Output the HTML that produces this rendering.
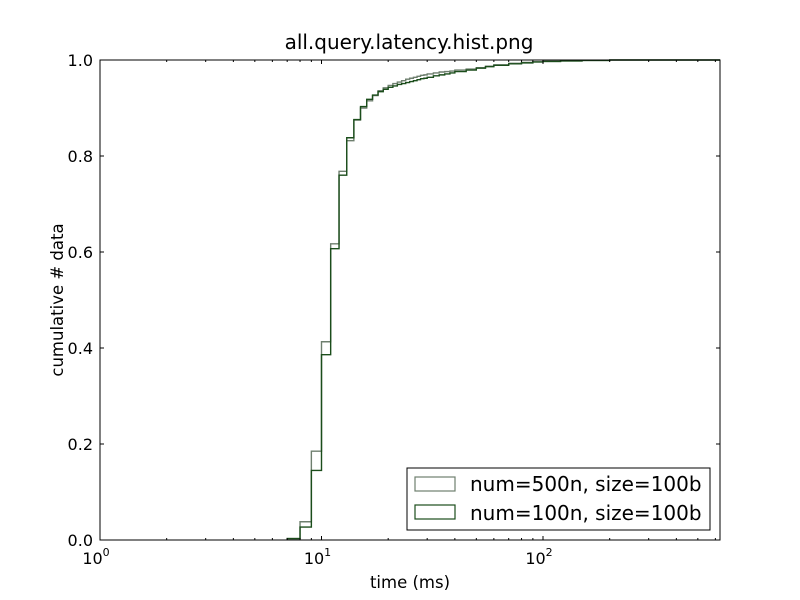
<!DOCTYPE html>
<html><head><meta charset="utf-8"><style>
html,body{margin:0;padding:0;background:#fff}
svg{display:block;font-family:"DejaVu Sans","Liberation Sans",sans-serif}
</style></head><body>
<svg id="chart" width="800" height="600" viewBox="0 0 800 600" xmlns="http://www.w3.org/2000/svg">
<defs><clipPath id="plotclip"><rect x="100" y="55" width="620" height="486"/></clipPath></defs>
<rect width="800" height="600" fill="#fff"/>
<text x="409" y="49" font-size="20" text-anchor="middle">all.query.latency.hist.png</text>
<g id="series" clip-path="url(#plotclip)"></g>
<g id="axes"></g>
<rect x="100" y="60" width="620" height="480" fill="none" stroke="#000" stroke-width="1"/>
<text x="410" y="588" font-size="16.5" text-anchor="middle">time (ms)</text>
<text transform="translate(63,300) rotate(-90)" font-size="16.5" text-anchor="middle">cumulative # data</text>
<g>
<rect x="407" y="468" width="303" height="62" fill="#fff" stroke="#000" stroke-width="1"/>
<rect x="415" y="477" width="40" height="14" fill="none" stroke="#6e7f6e" stroke-width="1.2"/>
<text x="470" y="491" font-size="20">num=500n, size=100b</text>
<rect x="415" y="505" width="40" height="14" fill="none" stroke="#1b4d1b" stroke-width="1.2"/>
<text x="470" y="520" font-size="20">num=100n, size=100b</text>
</g>
</svg>
<script>
const binEdges=[7,8,9,10,11,12,13,14,15,16,17,18,19,20,21,22,23,24,25,26,27,28,29,30,32,34,36,38,40,45,50,55,60,70,80,90,100,120,150,200,300,640];
const series500n=[0.003,0.038,0.185,0.413,0.617,0.768,0.832,0.875,0.9,0.915,0.926,0.936,0.942,0.947,0.951,0.954,0.957,0.96,0.962,0.964,0.966,0.968,0.969,0.971,0.973,0.975,0.976,0.977,0.979,0.981,0.984,0.987,0.99,0.993,0.995,0.996,0.997,0.998,0.999,1,1];
const series100n=[0.003,0.027,0.145,0.386,0.607,0.76,0.838,0.876,0.903,0.918,0.927,0.934,0.939,0.943,0.946,0.949,0.951,0.953,0.955,0.957,0.959,0.961,0.962,0.964,0.967,0.969,0.971,0.973,0.976,0.979,0.983,0.986,0.989,0.992,0.994,0.996,0.997,0.998,0.999,1,1];
const yTicks=[0,0.2,0.4,0.6,0.8,1.0];
const yTickLabels=["0.0","0.2","0.4","0.6","0.8","1.0"];
const xDecades=[0,1,2];
const X0=100,X1=720,Y0=540,Y1=60,PD=221.5,XMAX=Math.pow(10,(X1-X0)/PD);
const NS="http://www.w3.org/2000/svg";
function x(v){return X0+Math.log10(v)*PD;}
function y(v){return Y0-(v)*(Y0-Y1);}
function mk(tag,attrs,parent){const e=document.createElementNS(NS,tag);for(const k in attrs)e.setAttribute(k,attrs[k]);parent.appendChild(e);return e;}
const sg=document.getElementById('series'),ag=document.getElementById('axes');
function drawSeries(vals,color,name){
  let d="M"+x(binEdges[0])+","+y(0);
  for(let i=0;i<vals.length;i++){d+=" L"+x(binEdges[i])+","+y(vals[i])+" L"+x(binEdges[i+1])+","+y(vals[i]);}
  d+=" L"+x(binEdges[binEdges.length-1])+","+y(0);
  const p=mk('path',{d:d,fill:'none',stroke:color,'stroke-width':1.4},sg);
  
  
}
drawSeries(series500n,'#6e7f6e','series-500n');
drawSeries(series100n,'#1b4d1b','series-100n');
yTicks.forEach((t,i)=>{
  const yy=y(t);
  mk('line',{x1:X0,y1:yy,x2:X0+4,y2:yy,stroke:'#000'},ag);
  mk('line',{x1:X1,y1:yy,x2:X1-4,y2:yy,stroke:'#000'},ag);
  const tx=mk('text',{x:X0-7,y:yy+6,'font-size':16,'text-anchor':'end'},ag);
  tx.textContent=yTickLabels[i];
  
  
});
xDecades.forEach(dc=>{
  const xx=x(Math.pow(10,dc));
  mk('line',{x1:xx,y1:Y0,x2:xx,y2:Y0-4,stroke:'#000'},ag);
  mk('line',{x1:xx,y1:Y1,x2:xx,y2:Y1+4,stroke:'#000'},ag);
  const tx=mk('text',{x:xx-4,y:Y0+24,'font-size':16,'text-anchor':'middle'},ag);
  
  
  tx.textContent='10';
  const sp=mk('tspan',{dy:-8,'font-size':11},tx);sp.textContent=String(dc);
  for(let m=2;m<=9;m++){
    const v=m*Math.pow(10,dc);if(v>XMAX)break;
    const mx=x(v);
    mk('line',{x1:mx,y1:Y0,x2:mx,y2:Y0-2,stroke:'#000'},ag);
    mk('line',{x1:mx,y1:Y1,x2:mx,y2:Y1+2,stroke:'#000'},ag);
  }
});
</script>
</body></html>
